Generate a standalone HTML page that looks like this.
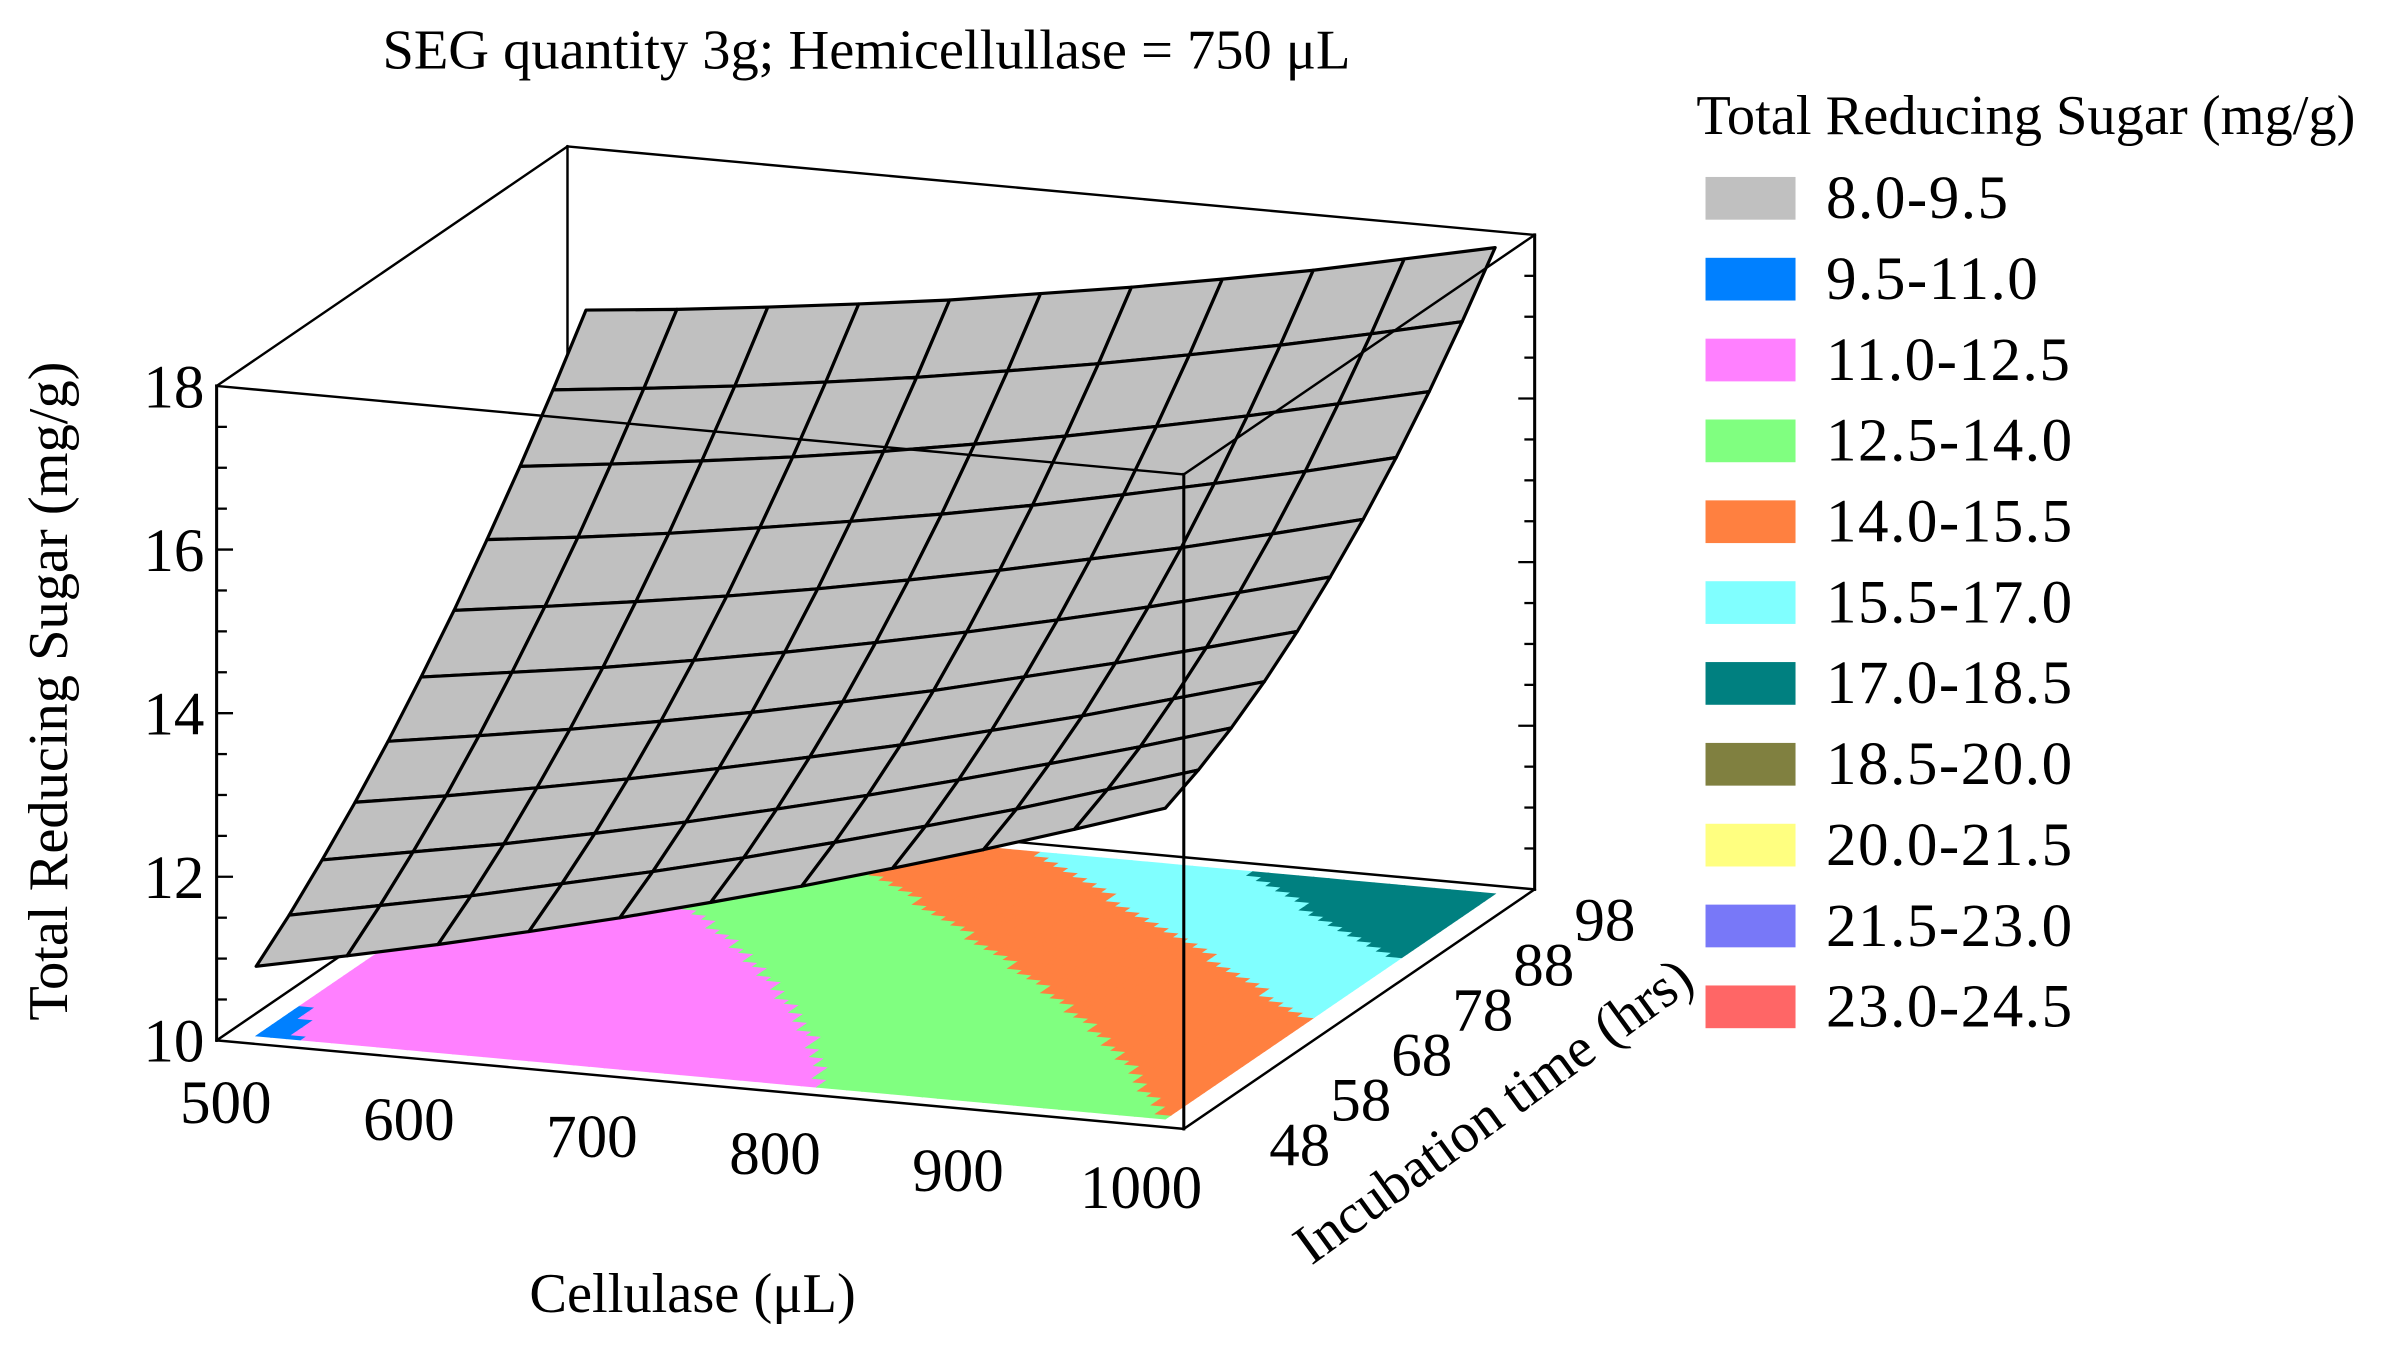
<!DOCTYPE html>
<html><head><meta charset="utf-8"><style>
html,body{margin:0;padding:0;background:#fff;}
svg{display:block;}
text{font-family:"Liberation Serif",serif;fill:#000;}
</style></head>
<body>
<svg id="chart" width="2392" height="1349" viewBox="0 0 1568 884.3" preserveAspectRatio="none" xmlns="http://www.w3.org/2000/svg">
<text x="568" y="45" font-size="37" text-anchor="middle">SEG quantity 3g; Hemicellullase = 750 μL</text>
<g id="floor"></g>
<g id="backbox"></g>
<g id="surface"></g>
<g id="frontbox"></g>
<g id="labels"></g>
<text transform="translate(44,453) rotate(-90)" font-size="37" text-anchor="middle">Total Reducing Sugar (mg/g)</text>
<text x="454" y="860" font-size="37" text-anchor="middle">Cellulase (μL)</text>
<text transform="translate(986,738) rotate(-36)" font-size="37" text-anchor="middle">Incubation time (hrs)</text>
<g id="legend">
<text x="1112" y="88" font-size="37">Total Reducing Sugar (mg/g)</text>
</g>
</svg>
<script>
const cellulase=[500,550,600,650,700,750,800,850,900,950,1000];
const incubation=[48,53,58,63,68,73,78,83,88,93,98];
// surface heights: rows = incubation time, columns = cellulase
const sugar=[
[10.85,11.08,11.32,11.58,11.85,12.14,12.44,12.76,13.09,13.44,13.80],
[11.20,11.42,11.64,11.89,12.14,12.41,12.70,13.00,13.31,13.65,13.99],
[11.60,11.80,12.00,12.23,12.47,12.73,13.00,13.29,13.59,13.90,14.23],
[12.03,12.21,12.41,12.62,12.85,13.09,13.34,13.62,13.90,14.21,14.52],
[12.50,12.67,12.85,13.05,13.26,13.49,13.73,14.00,14.27,14.56,14.86],
[13.01,13.17,13.33,13.52,13.72,13.94,14.17,14.42,14.68,14.96,15.25],
[13.55,13.70,13.86,14.03,14.22,14.43,14.65,14.89,15.13,15.40,15.68],
[14.14,14.27,14.42,14.59,14.77,14.96,15.17,15.40,15.64,15.89,16.16],
[14.76,14.89,15.03,15.18,15.35,15.54,15.74,15.96,16.19,16.44,16.69],
[15.42,15.54,15.67,15.82,15.98,16.16,16.35,16.56,16.78,17.02,17.27],
[16.12,16.23,16.36,16.50,16.65,16.83,17.01,17.21,17.42,17.66,17.90]];
// floor contour values: rows = incubation time, columns = cellulase
const floorSugar=[
[10.90,11.12,11.34,11.56,11.81,12.11,12.43,12.78,13.16,13.57,14.00],
[10.96,11.15,11.36,11.60,11.87,12.20,12.55,12.94,13.35,13.79,14.25],
[11.05,11.18,11.40,11.68,11.99,12.35,12.74,13.15,13.59,14.06,14.56],
[11.10,11.22,11.48,11.80,12.17,12.56,12.97,13.42,13.89,14.40,14.92],
[11.15,11.32,11.63,12.00,12.40,12.82,13.27,13.74,14.25,14.78,15.34],
[11.20,11.49,11.86,12.26,12.68,13.14,13.62,14.12,14.66,15.23,15.82],
[11.36,11.74,12.14,12.57,13.03,13.52,14.02,14.56,15.13,15.73,16.35],
[11.64,12.05,12.48,12.94,13.43,13.95,14.49,15.06,15.66,16.29,16.94],
[11.97,12.41,12.87,13.36,13.88,14.44,15.01,15.61,16.24,16.90,17.58],
[12.36,12.83,13.32,13.84,14.40,14.98,15.58,16.21,16.87,17.57,18.20],
[12.80,13.30,13.83,14.38,14.97,15.58,16.21,16.88,17.57,18.10,18.40]];
const zTicks=[10,12,14,16,18];
const xTicks=[500,600,700,800,900,1000];
const yTicks=[48,58,68,78,88,98];
const bandLabels=["8.0-9.5","9.5-11.0","11.0-12.5","12.5-14.0","14.0-15.5","15.5-17.0","17.0-18.5","18.5-20.0","20.0-21.5","21.5-23.0","23.0-24.5"];
const bandColors=["#c0c0c0","#0080ff","#ff80ff","#80ff80","#ff8040","#80ffff","#008080","#808040","#ffff80","#7878f8","#ff6666"];
const bandMin=8, bandStep=1.5;

const NS="http://www.w3.org/2000/svg";
const O={x:142,y:682}, XV={x:634,y:58}, YV={x:230,y:-157}, ZS=53.625;
const zMin=10, zMax=18;
function fu(c){return 0.03+0.94*(c-500)/500;}
function fv(t){return 0.03+0.94*(t-48)/50;}
function projF(a,b,z){return [O.x+XV.x*a+YV.x*b, O.y+XV.y*a+YV.y*b-(z-zMin)*ZS];}
function proj(c,t,z){return projF(fu(c),fv(t),z);}
function xLabelPos(c){const k=(c-500)/100;return [148+120*k,722+11.2*k];}
function yLabelPos(t){const k=(t-48)/10;return [852+40*k,764-29.5*k];}
function mk(tag,attrs,parent){const e=document.createElementNS(NS,tag);for(const k in attrs)e.setAttribute(k,attrs[k]);parent.appendChild(e);return e;}
function bandColor(z){let i=Math.floor((z-bandMin)/bandStep);i=Math.max(0,Math.min(bandColors.length-1,i));return bandColors[i];}

const floor=document.getElementById('floor');
const SUB=6;
for(let j=0;j<incubation.length-1;j++){
 for(let i=0;i<cellulase.length-1;i++){
  for(let sj=0;sj<SUB;sj++)for(let si=0;si<SUB;si++){
   const a=(si+0.5)/SUB,b=(sj+0.5)/SUB;
   const z=floorSugar[j][i]*(1-a)*(1-b)+floorSugar[j][i+1]*a*(1-b)+floorSugar[j+1][i]*(1-a)*b+floorSugar[j+1][i+1]*a*b;
   const c0=cellulase[i]+(cellulase[i+1]-cellulase[i])*si/SUB,c1=cellulase[i]+(cellulase[i+1]-cellulase[i])*(si+1)/SUB;
   const t0=incubation[j]+(incubation[j+1]-incubation[j])*sj/SUB,t1=incubation[j]+(incubation[j+1]-incubation[j])*(sj+1)/SUB;
   const p=[proj(c0,t0,zMin),proj(c1,t0,zMin),proj(c1,t1,zMin),proj(c0,t1,zMin)];
   const col=bandColor(z);
   const poly=mk('polygon',{points:p.map(q=>q.join(',')).join(' '),fill:col,stroke:col,'stroke-width':0.6},floor);
   
   
  }
 }
}

function line(p,q,parent,w,name){const l=mk('line',{x1:p[0],y1:p[1],x2:q[0],y2:q[1],stroke:'#000','stroke-width':w||1.5,'stroke-linecap':'square'},parent);return l;}
const bb=document.getElementById('backbox');
const B000=projF(0,0,zMin),B100=projF(1,0,zMin),B010=projF(0,1,zMin),B110=projF(1,1,zMin);
const B001=projF(0,0,zMax),B101=projF(1,0,zMax),B011=projF(0,1,zMax),B111=projF(1,1,zMax);
line(B000,B010,bb,1.6,'floor-left-edge');
line(B010,B110,bb,1.6,'floor-back-edge');
line(B010,B011,bb,1.6,'back-left-vertical');
line(B110,B111,bb,2,'back-right-vertical');
line(B011,B111,bb,1.6,'top-back-edge');
line(B001,B011,bb,1.6,'top-left-edge');
for(let z=zMin+0.5;z<zMax;z+=0.5){const p=projF(1,1,z);line([p[0]-(z%2===0?10:6),p[1]],p,bb,1.5,'z-tick-right');}

const sf=document.getElementById('surface');
for(let j=incubation.length-2;j>=0;j--){
 for(let i=0;i<cellulase.length-1;i++){
  const p=[proj(cellulase[i],incubation[j],sugar[j][i]),proj(cellulase[i+1],incubation[j],sugar[j][i+1]),proj(cellulase[i+1],incubation[j+1],sugar[j+1][i+1]),proj(cellulase[i],incubation[j+1],sugar[j+1][i])];
  const q=mk('polygon',{points:p.map(r=>r.join(',')).join(' '),fill:'#c0c0c0',stroke:'#000','stroke-width':2.1,'stroke-linejoin':'round'},sf);
  
  
 }
}

const fb=document.getElementById('frontbox');
line(B000,B100,fb,1.6,'floor-front-edge');
line(B100,B110,fb,1.6,'floor-right-edge');
line(B000,B001,fb,2,'z-axis-line');
line(B100,B101,fb,2,'front-right-vertical');
line(B001,B101,fb,1.6,'top-front-edge');
line(B101,B111,fb,1.6,'top-right-edge');
for(let z=zMin+0.5;z<zMax;z+=0.5){const p=projF(0,0,z);line(p,[p[0]+(z%2===0?10:6),p[1]],fb,1.5,'z-tick');}

const lb=document.getElementById('labels');
zTicks.forEach(z=>{const p=projF(0,0,z);const t=mk('text',{x:p[0]-8,y:p[1]+14,'font-size':40,'text-anchor':'end'},lb);t.textContent=z;
 
 });
xTicks.forEach(c=>{const p=xLabelPos(c);const t=mk('text',{x:p[0],y:p[1]+14,'font-size':40,'text-anchor':'middle'},lb);t.textContent=c;
 
 });
yTicks.forEach(v=>{const p=yLabelPos(v);const t=mk('text',{x:p[0],y:p[1],'font-size':40,'text-anchor':'middle'},lb);t.textContent=v;
 
 });

const lg=document.getElementById('legend');
bandLabels.forEach((s,k)=>{const y=116+k*53;
 const r=mk('rect',{x:1118,y:y,width:59,height:28,fill:bandColors[k]},lg);
 
 
 const t=mk('text',{x:1197,y:y+27,'font-size':40,'letter-spacing':1},lg);t.textContent=s;
 
 });
</script>
</body></html>
